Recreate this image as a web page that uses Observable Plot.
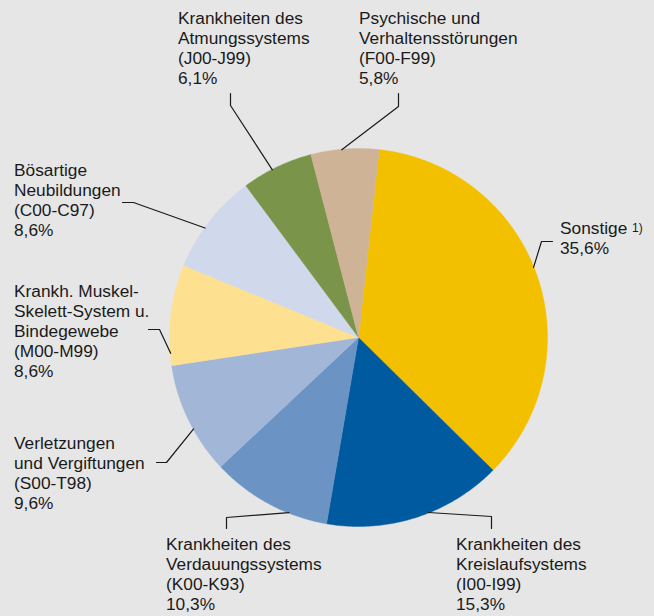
<!DOCTYPE html>
<html><head><meta charset="utf-8">
<script src="https://cdn.jsdelivr.net/npm/d3@7"></script>
<script src="https://cdn.jsdelivr.net/npm/@observablehq/plot@0.6"></script>
<style>html,body{margin:0;padding:0;background:#e6e6e6;}</style>
</head><body><div id="chart"></div>
<script>
// ---- data ----
const categories = [
  "Sonstige",
  "Krankheiten des\nKreislaufsystems",
  "Krankheiten des\nVerdauungssystems",
  "Verletzungen\nund Vergiftungen",
  "Krankh. Muskel-\nSkelett-System u.\nBindegewebe",
  "Bösartige\nNeubildungen",
  "Krankheiten des\nAtmungssystems",
  "Psychische und\nVerhaltensstörungen"
];
const codes = ["", "(I00-I99)", "(K00-K93)", "(S00-T98)", "(M00-M99)", "(C00-C97)", "(J00-J99)", "(F00-F99)"];
const values = [35.6, 15.3, 10.3, 9.6, 8.6, 8.6, 6.1, 5.8];
const colors = ["#f3c000", "#005a9f", "#6b93c4", "#a2b6d8", "#fee091", "#d0d9ec", "#7a9449", "#ceb397"];
const footnotes = ["1)", "", "", "", "", "", "", ""];

// ---- layout (pixels) ----
const W = 654, H = 616;
const cx = 358, cy = 337, R = 189;
const startDeg = 6.3;
const labelX = [559.5, 455.5, 165.5, 13.5, 13.5, 13.5, 177.5, 358.5];
const labelBase = [233, 549, 549, 448, 296, 175, 23, 23];
const leaderEdgeDeg = [68.2, 158.2, 201.7, 241, 265.2, 305.5, 332.8, 354.9];
const leaderKnee = [[541, 241], [491, 516], [226, 517], [166, 462], [159, 329], [133, 202], [230, 105], [398, 106]];
const leaderEnd = [[552, 241], [491, 528], [226, 528], [156, 462], [148, 329], [122, 202], [230, 93], [398, 93]];
const fs = 17.3, lh = 20;

const rad = d => d * Math.PI / 180;
const pie = d3.pie().sort(null).value(d => d).startAngle(rad(startDeg)).endAngle(rad(startDeg + 360));
const arcs = pie(values);

// slice polygons sampled along the arc
const slicePts = [];
arcs.forEach((a, i) => {
  const n = Math.max(2, Math.ceil((a.endAngle - a.startAngle) / rad(0.5)));
  slicePts.push({k: i, x: cx, y: cy, c: colors[i]});
  for (let j = 0; j <= n; j++) {
    const t = a.startAngle + (a.endAngle - a.startAngle) * j / n;
    slicePts.push({k: i, x: cx + R * Math.sin(t), y: cy - R * Math.cos(t), c: colors[i]});
  }
  slicePts.push({k: i, x: cx, y: cy, c: colors[i]});
});

// leader lines
const leaderPts = [];
categories.forEach((c, i) => {
  const t = rad(leaderEdgeDeg[i]);
  leaderPts.push({k: i, x: leaderEnd[i][0], y: leaderEnd[i][1]});
  leaderPts.push({k: i, x: leaderKnee[i][0], y: leaderKnee[i][1]});
  leaderPts.push({k: i, x: cx + (R - 0.5) * Math.sin(t), y: cy - (R - 0.5) * Math.cos(t)});
});

const fmt = v => v.toFixed(1).replace(".", ",") + "%";
const labels = categories.map((c, i) => {
  const lines = [c];
  if (codes[i]) lines.push(codes[i]);
  lines.push(fmt(values[i]));
  const text = lines.join("\n");
  const n = text.split("\n").length;
  return {text, x: labelX[i], y: labelBase[i] + (n - 1) * lh};
});
const notes = categories.map((c, i) => ({t: footnotes[i], i})).filter(d => d.t)
  .map(d => ({t: d.t, x: labelX[d.i] + 72, y: labelBase[d.i] - 2}));

const chart = Plot.plot({
  width: W, height: H,
  margin: 0,
  x: {domain: [0, W], range: [0, W], axis: null},
  y: {domain: [0, H], range: [0, H], axis: null},
  color: {type: "identity"},
  style: {background: "#e6e6e6", fontFamily: "'Liberation Sans', Arial, Helvetica, sans-serif", overflow: "visible"},
  marks: [
    Plot.line(slicePts, {x: "x", y: "y", z: "k", fill: "c", stroke: "c", strokeWidth: 0.4, curve: "linear"}),
    Plot.line(leaderPts, {x: "x", y: "y", z: "k", stroke: "#1a1a1a", strokeWidth: 1.2, curve: "linear"}),
    Plot.text(labels, {x: "x", y: "y", text: "text", textAnchor: "start", lineAnchor: "bottom", lineHeight: lh / fs, fontSize: fs, fill: "#1a1a1a"}),
    Plot.text(notes, {x: "x", y: "y", text: "t", textAnchor: "start", lineAnchor: "bottom", fontSize: 12, fill: "#1a1a1a"})
  ]
});
document.getElementById("chart").appendChild(chart);
</script>
</body></html>
